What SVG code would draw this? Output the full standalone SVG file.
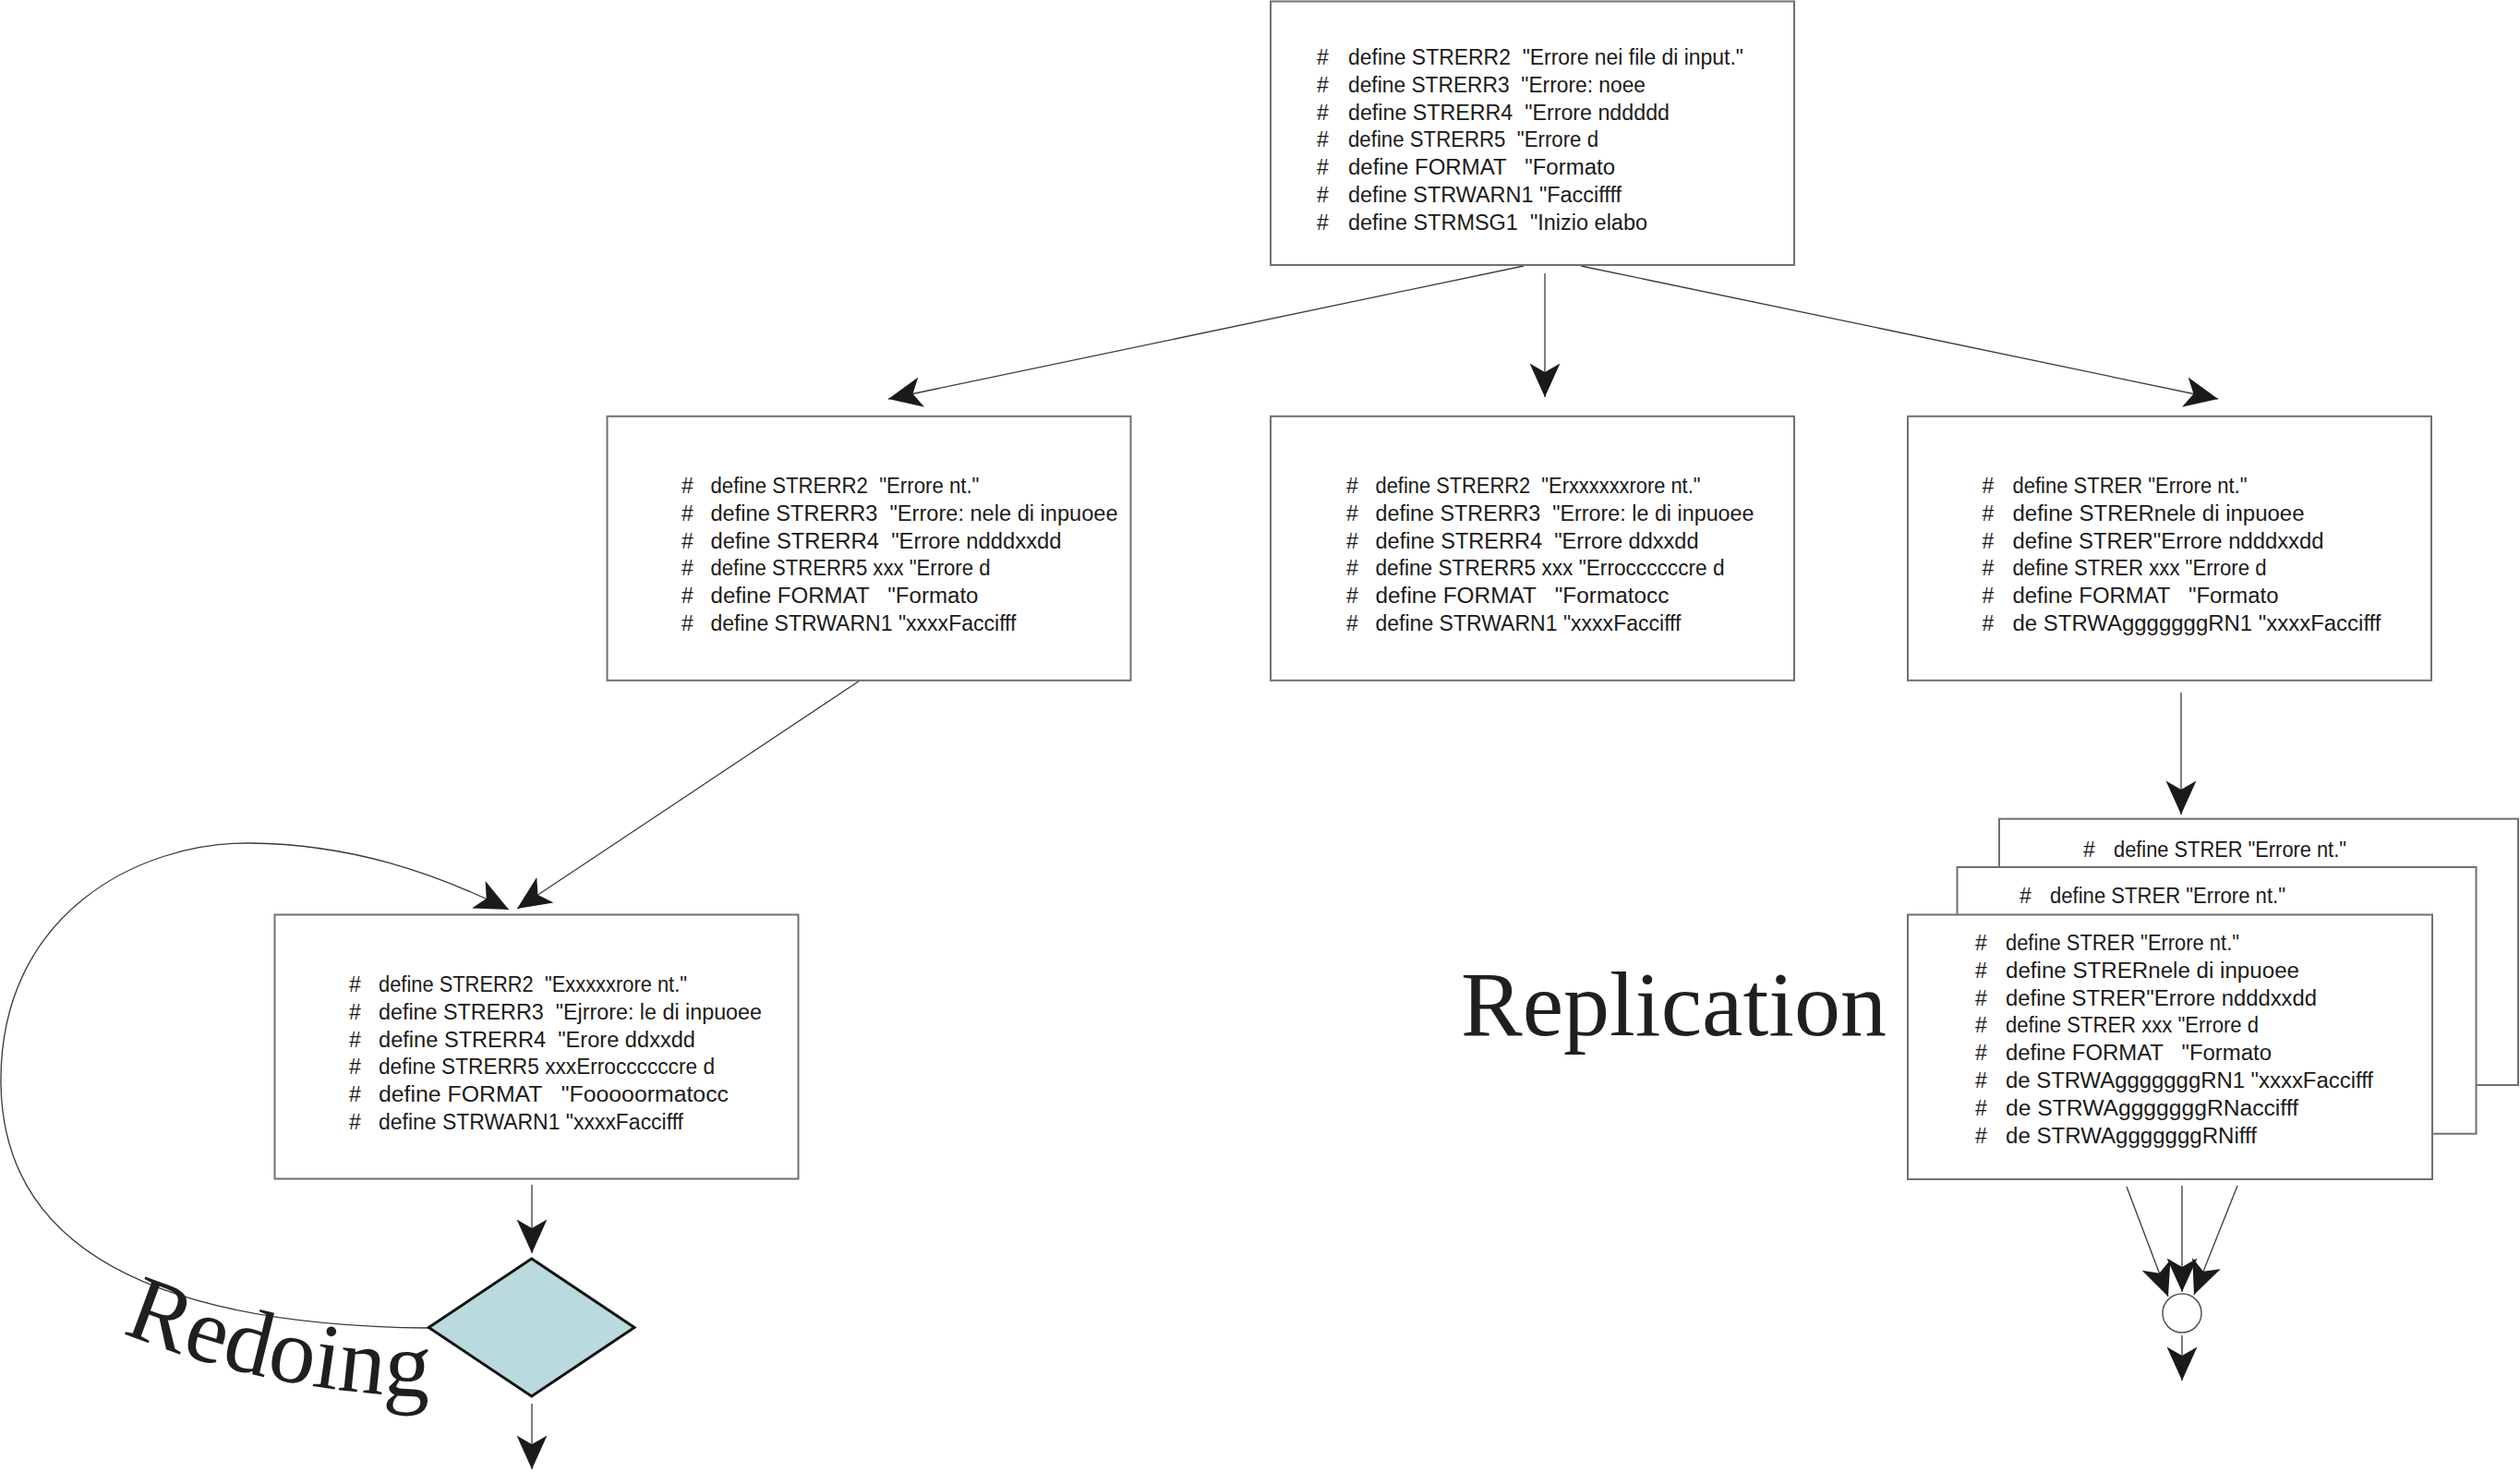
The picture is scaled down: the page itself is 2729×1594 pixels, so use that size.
<svg xmlns="http://www.w3.org/2000/svg" width="2729" height="1594" viewBox="0 0 2729 1594">
<style>
.box{fill:#fff;stroke:#707070;stroke-width:2}
.t{font-family:"Liberation Sans",Arial,sans-serif;font-size:23px;fill:#1c1a19;white-space:pre}
.conn{fill:none;stroke:#3a3a3a;stroke-width:1.3;marker-end:url(#ah)}
.big{font-family:"Liberation Serif","Times New Roman",serif;fill:#221e1f}
.dia{fill:#b9dbdd;stroke:#111;stroke-width:3;stroke-linejoin:miter}
.join{fill:#fff;stroke:#555;stroke-width:1.5}
</style>
<defs>
<marker id="ah" markerUnits="userSpaceOnUse" markerWidth="40" markerHeight="40" viewBox="-32 -16 34 32" refX="0" refY="0" orient="auto">
<path d="M0,0 L-31,-14 L-23,0 L-31,14 Z" fill="#1c1a19"/>
</marker>
<path id="redoPath" d="M 132,1443 Q 300,1512 490,1513"/>
</defs>

<g id="connectors">
<line class="conn" x1="1650" y1="288" x2="962" y2="432"/>
<line class="conn" x1="1673" y1="296" x2="1673" y2="430"/>
<line class="conn" x1="1712" y1="288" x2="2402" y2="432"/>
<line class="conn" x1="931" y1="737" x2="560" y2="984"/>
<path class="conn" d="M 464,1438 C 255,1436 5,1395 1,1175 C -2,990 150,912 270,913 C 380,914 470,945 551,985"/>
<line class="conn" x1="576" y1="1283" x2="576" y2="1357"/>
<line class="conn" x1="576" y1="1520" x2="576" y2="1591"/>
<line class="conn" x1="2362" y1="750" x2="2362" y2="882"/>
<line class="conn" x1="2303" y1="1285" x2="2348" y2="1404"/>
<line class="conn" x1="2363" y1="1284" x2="2363" y2="1399"/>
<line class="conn" x1="2423" y1="1284" x2="2376" y2="1402"/>
<line class="conn" x1="2363" y1="1446" x2="2363" y2="1495"/>
</g>

<g id="n-top">
<rect class="box" x="1376" y="1.5" width="567" height="285.5"/>
<text class="t" x="1426" y="70">#</text><text class="t" x="1460" y="70" textLength="428" lengthAdjust="spacingAndGlyphs">define STRERR2  "Errore nei file di input."</text>
<text class="t" x="1426" y="99.8">#</text><text class="t" x="1460" y="99.8" textLength="322" lengthAdjust="spacingAndGlyphs">define STRERR3  "Errore: noee</text>
<text class="t" x="1426" y="129.6">#</text><text class="t" x="1460" y="129.6" textLength="348" lengthAdjust="spacingAndGlyphs">define STRERR4  "Errore nddddd</text>
<text class="t" x="1426" y="159.4">#</text><text class="t" x="1460" y="159.4" textLength="271" lengthAdjust="spacingAndGlyphs">define STRERR5  "Errore d</text>
<text class="t" x="1426" y="189.2">#</text><text class="t" x="1460" y="189.2" textLength="289" lengthAdjust="spacingAndGlyphs">define FORMAT   "Formato</text>
<text class="t" x="1426" y="219">#</text><text class="t" x="1460" y="219" textLength="296" lengthAdjust="spacingAndGlyphs">define STRWARN1 "Facciffff</text>
<text class="t" x="1426" y="248.8">#</text><text class="t" x="1460" y="248.8" textLength="324" lengthAdjust="spacingAndGlyphs">define STRMSG1  "Inizio elabo</text>
</g>

<g id="n-left">
<rect class="box" x="657.5" y="450.8" width="567" height="286"/>
<text class="t" x="738" y="534">#</text><text class="t" x="769.5" y="534" textLength="291" lengthAdjust="spacingAndGlyphs">define STRERR2  "Errore nt."</text>
<text class="t" x="738" y="563.8">#</text><text class="t" x="769.5" y="563.8" textLength="441" lengthAdjust="spacingAndGlyphs">define STRERR3  "Errore: nele di inpuoee</text>
<text class="t" x="738" y="593.6">#</text><text class="t" x="769.5" y="593.6" textLength="380" lengthAdjust="spacingAndGlyphs">define STRERR4  "Errore ndddxxdd</text>
<text class="t" x="738" y="623.4">#</text><text class="t" x="769.5" y="623.4" textLength="303" lengthAdjust="spacingAndGlyphs">define STRERR5 xxx "Errore d</text>
<text class="t" x="738" y="653.2">#</text><text class="t" x="769.5" y="653.2" textLength="290" lengthAdjust="spacingAndGlyphs">define FORMAT   "Formato</text>
<text class="t" x="738" y="683">#</text><text class="t" x="769.5" y="683" textLength="331" lengthAdjust="spacingAndGlyphs">define STRWARN1 "xxxxFaccifff</text>
</g>

<g id="n-mid">
<rect class="box" x="1376" y="450.8" width="567" height="286"/>
<text class="t" x="1458" y="534">#</text><text class="t" x="1489.5" y="534" textLength="352" lengthAdjust="spacingAndGlyphs">define STRERR2  "Erxxxxxxrore nt."</text>
<text class="t" x="1458" y="563.8">#</text><text class="t" x="1489.5" y="563.8" textLength="410" lengthAdjust="spacingAndGlyphs">define STRERR3  "Errore: le di inpuoee</text>
<text class="t" x="1458" y="593.6">#</text><text class="t" x="1489.5" y="593.6" textLength="350" lengthAdjust="spacingAndGlyphs">define STRERR4  "Errore ddxxdd</text>
<text class="t" x="1458" y="623.4">#</text><text class="t" x="1489.5" y="623.4" textLength="378" lengthAdjust="spacingAndGlyphs">define STRERR5 xxx "Erroccccccre d</text>
<text class="t" x="1458" y="653.2">#</text><text class="t" x="1489.5" y="653.2" textLength="318" lengthAdjust="spacingAndGlyphs">define FORMAT   "Formatocc</text>
<text class="t" x="1458" y="683">#</text><text class="t" x="1489.5" y="683" textLength="331" lengthAdjust="spacingAndGlyphs">define STRWARN1 "xxxxFaccifff</text>
</g>

<g id="n-right">
<rect class="box" x="2066" y="450.8" width="567" height="286"/>
<text class="t" x="2146.5" y="534">#</text><text class="t" x="2179.5" y="534" textLength="254" lengthAdjust="spacingAndGlyphs">define STRER "Errore nt."</text>
<text class="t" x="2146.5" y="563.8">#</text><text class="t" x="2179.5" y="563.8" textLength="316" lengthAdjust="spacingAndGlyphs">define STRERnele di inpuoee</text>
<text class="t" x="2146.5" y="593.6">#</text><text class="t" x="2179.5" y="593.6" textLength="337" lengthAdjust="spacingAndGlyphs">define STRER"Errore ndddxxdd</text>
<text class="t" x="2146.5" y="623.4">#</text><text class="t" x="2179.5" y="623.4" textLength="275" lengthAdjust="spacingAndGlyphs">define STRER xxx "Errore d</text>
<text class="t" x="2146.5" y="653.2">#</text><text class="t" x="2179.5" y="653.2" textLength="288" lengthAdjust="spacingAndGlyphs">define FORMAT   "Formato</text>
<text class="t" x="2146.5" y="683">#</text><text class="t" x="2179.5" y="683" textLength="399" lengthAdjust="spacingAndGlyphs">de STRWAgggggggRN1 "xxxxFaccifff</text>
</g>

<g id="n-redo">
<rect class="box" x="297.5" y="990.5" width="567" height="286"/>
<text class="t" x="378" y="1074">#</text><text class="t" x="410" y="1074" textLength="334" lengthAdjust="spacingAndGlyphs">define STRERR2  "Exxxxxrore nt."</text>
<text class="t" x="378" y="1103.8">#</text><text class="t" x="410" y="1103.8" textLength="415" lengthAdjust="spacingAndGlyphs">define STRERR3  "Ejrrore: le di inpuoee</text>
<text class="t" x="378" y="1133.6">#</text><text class="t" x="410" y="1133.6" textLength="343" lengthAdjust="spacingAndGlyphs">define STRERR4  "Erore ddxxdd</text>
<text class="t" x="378" y="1163.4">#</text><text class="t" x="410" y="1163.4" textLength="364" lengthAdjust="spacingAndGlyphs">define STRERR5 xxxErroccccccre d</text>
<text class="t" x="378" y="1193.2">#</text><text class="t" x="410" y="1193.2" textLength="379" lengthAdjust="spacingAndGlyphs">define FORMAT   "Fooooormatocc</text>
<text class="t" x="378" y="1223">#</text><text class="t" x="410" y="1223" textLength="330" lengthAdjust="spacingAndGlyphs">define STRWARN1 "xxxxFaccifff</text>
</g>

<g id="n-decision">
<polygon class="dia" points="575.7,1363 687,1437.5 575.7,1512 464.3,1437.5"/>
</g>

<g id="n-rep3">
<rect class="box" x="2165" y="886.7" width="562" height="288.3"/>
<text class="t" x="2256" y="928">#</text><text class="t" x="2289" y="928" textLength="252" lengthAdjust="spacingAndGlyphs">define STRER "Errore nt."</text>
</g>

<g id="n-rep2">
<rect class="box" x="2119.5" y="939" width="562" height="288.7"/>
<text class="t" x="2187" y="978">#</text><text class="t" x="2220" y="978" textLength="255" lengthAdjust="spacingAndGlyphs">define STRER "Errore nt."</text>
</g>

<g id="n-rep1">
<rect class="box" x="2066" y="990.5" width="568" height="286.5"/>
<text class="t" x="2139" y="1029">#</text><text class="t" x="2172" y="1029" textLength="253" lengthAdjust="spacingAndGlyphs">define STRER "Errore nt."</text>
<text class="t" x="2139" y="1058.8">#</text><text class="t" x="2172" y="1058.8" textLength="318" lengthAdjust="spacingAndGlyphs">define STRERnele di inpuoee</text>
<text class="t" x="2139" y="1088.6">#</text><text class="t" x="2172" y="1088.6" textLength="337" lengthAdjust="spacingAndGlyphs">define STRER"Errore ndddxxdd</text>
<text class="t" x="2139" y="1118.4">#</text><text class="t" x="2172" y="1118.4" textLength="274" lengthAdjust="spacingAndGlyphs">define STRER xxx "Errore d</text>
<text class="t" x="2139" y="1148.2">#</text><text class="t" x="2172" y="1148.2" textLength="288" lengthAdjust="spacingAndGlyphs">define FORMAT   "Formato</text>
<text class="t" x="2139" y="1178">#</text><text class="t" x="2172" y="1178" textLength="398" lengthAdjust="spacingAndGlyphs">de STRWAgggggggRN1 "xxxxFaccifff</text>
<text class="t" x="2139" y="1207.8">#</text><text class="t" x="2172" y="1207.8" textLength="317" lengthAdjust="spacingAndGlyphs">de STRWAgggggggRNaccifff</text>
<text class="t" x="2139" y="1237.6">#</text><text class="t" x="2172" y="1237.6" textLength="272" lengthAdjust="spacingAndGlyphs">de STRWAgggggggRNifff</text>
</g>

<g id="n-join">
<circle class="join" cx="2363" cy="1422" r="21"/>
</g>

<g id="labels">
<text class="big" x="1582" y="1121" font-size="100">Replication</text>
<text class="big" font-size="101"><textPath href="#redoPath">Redoing</textPath></text>
</g>
</svg>
